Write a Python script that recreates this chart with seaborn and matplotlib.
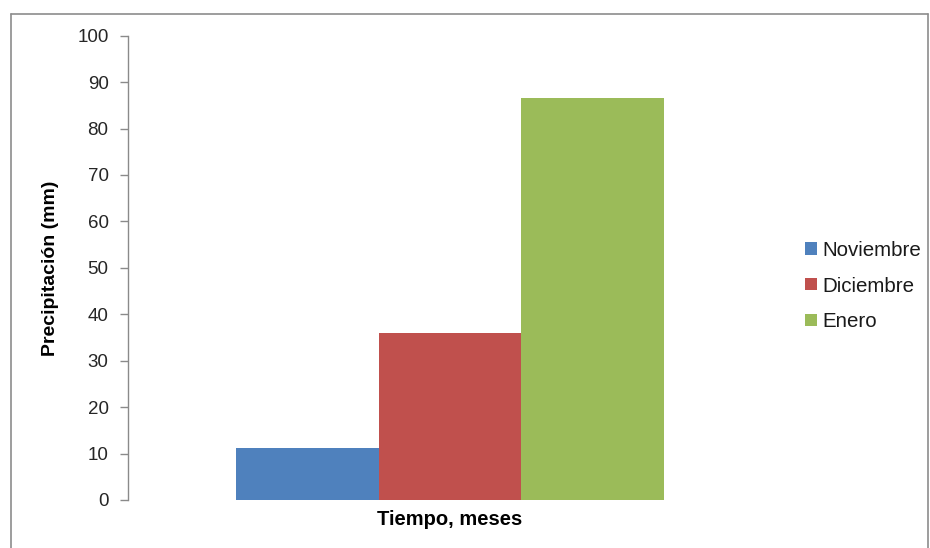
import matplotlib
matplotlib.use("Agg")
import matplotlib.pyplot as plt
from matplotlib.lines import Line2D
import seaborn as sns
import pandas as pd

# Data
grupo = [""]
meses = ["Noviembre", "Diciembre", "Enero"]
precipitacion = [11.3, 35.9, 86.6]
colores = ["#4F81BD", "#C0504D", "#9BBB59"]
yticks = [0, 10, 20, 30, 40, 50, 60, 70, 80, 90, 100]

df = pd.DataFrame({
    "grupo": grupo * len(meses),
    "mes": meses,
    "valor": precipitacion,
})

sns.set_theme(style="white")
plt.rcParams["font.family"] = ["Liberation Sans", "DejaVu Sans"]

fig = plt.figure(figsize=(9.3, 5.48), dpi=100)
fig.patch.set_facecolor("white")
ax = fig.add_axes([0.1376, 0.0876, 0.6924, 0.8473])

sns.barplot(data=df, x="grupo", y="valor", hue="mes", hue_order=meses,
            palette=colores, width=0.665, gap=0, saturation=1,
            edgecolor="none", linewidth=0, ax=ax)

ax.set_ylim(0, 100)
ax.set_xlim(-0.5, 0.5)
ax.set_yticks(yticks)
ax.set_yticklabels([str(t) for t in yticks], fontsize=13.5, color="#262626")
ax.tick_params(axis="y", which="major", left=True, length=6, width=1,
               color="#8a8a8a", pad=8)
ax.tick_params(axis="x", bottom=False, labelbottom=False)

for s in ["top", "right", "bottom"]:
    ax.spines[s].set_visible(False)
ax.spines["left"].set_color("#8a8a8a")
ax.spines["left"].set_linewidth(1)

ax.set_ylabel("Precipitación (mm)", fontsize=14, fontweight="bold",
              color="black", labelpad=13)
ax.set_xlabel("Tiempo, meses", fontsize=14.5, fontweight="bold",
              color="black", labelpad=7)

leg = ax.legend(loc="center left", bbox_to_anchor=(0.855, 0.478),
                bbox_transform=fig.transFigure, frameon=False,
                fontsize=14.8, handlelength=0.55, handleheight=0.55,
                handletextpad=0.28, labelspacing=0.82, borderpad=0)
for t in leg.get_texts():
    t.set_color("#1a1a1a")

# Outer chart border (Excel-style)
bc = "#8c8c8c"
x0, x1 = 10.5 / 930, 927.5 / 930
y1 = 1 - 14 / 548
fig.add_artist(Line2D([x0, x0], [0, y1], transform=fig.transFigure, color=bc, lw=1.2))
fig.add_artist(Line2D([x0, x1], [y1, y1], transform=fig.transFigure, color=bc, lw=1.2))
fig.add_artist(Line2D([x1, x1], [0, y1], transform=fig.transFigure, color=bc, lw=1.2))

fig.savefig("out.png", dpi=100, facecolor="white")
